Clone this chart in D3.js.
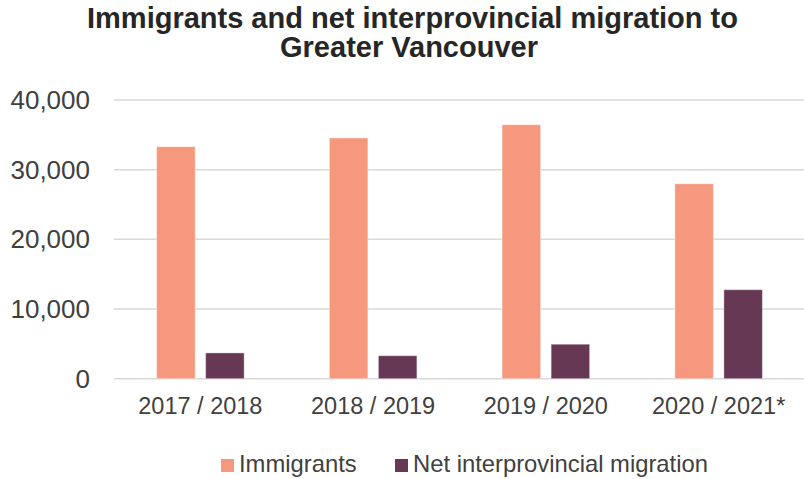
<!DOCTYPE html>
<html>
<head>
<meta charset="utf-8">
<script src="https://cdn.jsdelivr.net/npm/d3@7"></script>
<style>
  body { margin: 0; background: #fff; }
  text { font-family: Arial, "Liberation Sans", sans-serif; fill: #404040; }
  #title { font-weight: bold; fill: #262626; }
</style>
</head>
<body>
<script>
var width = 804, height = 479;
var margin = {top: 100, bottom: 100, left: 114, right: 0};

// data
var periods = ["2017 / 2018", "2018 / 2019", "2019 / 2020", "2020 / 2021*"];
var immigrants = [33300, 34550, 36450, 27980];
var netMigration = [3700, 3300, 4950, 12770];
var seriesNames = ["Immigrants", "Net interprovincial migration"];
var colors = ["#F6987E", "#673854"];
var yTicks = [0, 10000, 20000, 30000, 40000];

var rows = periods.map(function(p, i) {
  return {period: p, values: [immigrants[i], netMigration[i]]};
});

var svg = d3.select("body")
            .append("svg")
            .attr("width", width)
            .attr("height", height);

var yScale = d3.scaleLinear()
               .domain([0, 40000])
               .range([378.7, 100]);

var x0 = d3.scaleBand()
           .domain(periods)
           .range([margin.left, width + 1])
           .padding(0);

var x1 = d3.scaleBand()
           .domain(seriesNames)
           .range([0, x0.bandwidth()])
           .paddingInner(0.214)
           .paddingOuter(0.869);

// gridlines
svg.append("g")
   .selectAll("line")
   .data(yTicks)
   .enter().append("line")
   .attr("x1", margin.left)
   .attr("x2", width)
   .attr("y1", function(d) { return yScale(d); })
   .attr("y2", function(d) { return yScale(d); })
   .attr("stroke", "#d9d9d9")
   .attr("stroke-width", 1.5);

// y axis labels
var yAxis = d3.axisLeft(yScale)
              .tickValues(yTicks)
              .tickFormat(d3.format(","))
              .tickSize(0)
              .tickPadding(0);

var yG = svg.append("g")
   .attr("transform", "translate(90,0)")
   .call(yAxis);
yG.select(".domain").remove();
yG.selectAll("text")
  .attr("font-size", 26)
  .attr("font-family", null)
  .style("fill", "#404040");

// bars
var groups = svg.append("g")
   .selectAll("g")
   .data(rows)
   .enter().append("g")
   .attr("transform", function(d) { return "translate(" + x0(d.period) + ",0)"; });

groups.selectAll("rect")
   .data(function(d) { return d.values.map(function(v, i) { return {key: seriesNames[i], value: v, i: i}; }); })
   .enter().append("rect")
   .attr("x", function(d) { return x1(d.key); })
   .attr("width", x1.bandwidth())
   .attr("y", function(d) { return yScale(d.value); })
   .attr("height", function(d) { return yScale(0) - yScale(d.value); })
   .attr("fill", function(d) { return colors[d.i]; })
   .attr("stroke", "#ffffff")
   .attr("stroke-opacity", 0.4)
   .attr("stroke-width", 1);

// x axis labels
var xAxis = d3.axisBottom(x0).tickSize(0).tickPadding(0);
var xG = svg.append("g")
   .attr("transform", "translate(0,414)")
   .call(xAxis);
xG.select(".domain").remove();
xG.selectAll("text")
  .attr("dy", 0)
  .attr("font-size", 23.5)
  .attr("font-family", null)
  .style("fill", "#404040");

// title
var title = svg.append("text")
   .attr("id", "title")
   .attr("text-anchor", "middle")
   .attr("font-size", 29);
title.append("tspan").attr("x", 412.5).attr("y", 27.5).text("Immigrants and net interprovincial migration to");
title.append("tspan").attr("x", 409).attr("y", 57).text("Greater Vancouver");

// legend
var legendX = [221, 395];
var legend = svg.selectAll(".legend")
   .data(seriesNames)
   .enter().append("g")
   .attr("class", "legend");

legend.append("rect")
   .attr("x", function(d, i) { return legendX[i]; })
   .attr("y", 459)
   .attr("width", 13)
   .attr("height", 13)
   .attr("fill", function(d, i) { return colors[i]; });

legend.append("text")
   .attr("x", function(d, i) { return legendX[i] + 18; })
   .attr("y", 472)
   .attr("font-size", 23.8)
   .text(function(d) { return d; });
</script>
</body>
</html>
